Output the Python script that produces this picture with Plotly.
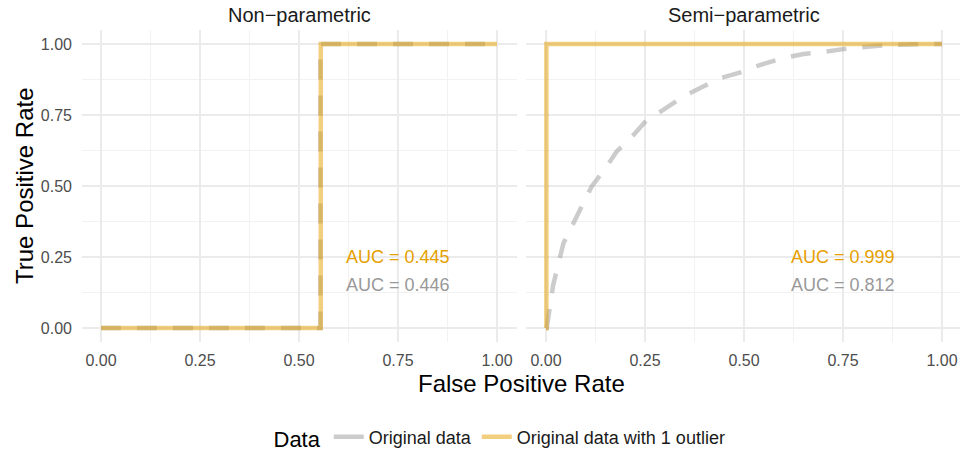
import plotly.graph_objects as go

# ---------------- data ----------------
panels = ["Non−parametric", "Semi−parametric"]
series_names = ["Original data", "Original data with 1 outlier"]

np_fpr_orig = [0.0, 0.554, 0.554, 1.0]
np_tpr_orig = [0.0, 0.0, 1.0, 1.0]
np_fpr_out = [0.0, 0.555, 0.555, 1.0]
np_tpr_out = [0.0, 0.0, 1.0, 1.0]

sp_fpr_orig = [0.0, 0.002, 0.018, 0.044, 0.094, 0.115, 0.153, 0.178, 0.221, 0.254,
               0.296, 0.347, 0.397, 0.439, 0.498, 0.540, 0.599, 0.650, 0.705, 0.751,
               0.818, 0.860, 0.928, 0.974, 1.0]
sp_tpr_orig = [0.0, 0.0, 0.151, 0.298, 0.439, 0.498, 0.568, 0.621, 0.680, 0.732,
               0.768, 0.815, 0.850, 0.879, 0.903, 0.926, 0.950, 0.965, 0.973, 0.982,
               0.991, 0.996, 0.999, 1.0, 1.0]
sp_fpr_out = [0.0, 0.001, 0.001, 1.0]
sp_tpr_out = [0.0, 0.0, 1.0, 1.0]

auc_out = ["AUC = 0.445", "AUC = 0.999"]
auc_orig = ["AUC = 0.446", "AUC = 0.812"]

tick_vals = [0, 0.25, 0.5, 0.75, 1.0]
tick_text = ["0.00", "0.25", "0.50", "0.75", "1.00"]

# ---------------- styles ----------------
GREY = "rgba(153,153,153,0.5)"
ORANGE = "rgba(230,159,0,0.5)"
FONT = "Liberation Sans, Arial, sans-serif"
W, H = 960, 453
LW = 4.5
DASH = "20px,16px"

fig = go.Figure()

data = [
    (np_fpr_orig, np_tpr_orig, np_fpr_out, np_tpr_out, "x", "y"),
    (sp_fpr_orig, sp_tpr_orig, sp_fpr_out, sp_tpr_out, "x2", "y2"),
]
for fo, to, fu, tu, xa, ya in data:
    fig.add_trace(go.Scatter(x=fo, y=to, mode="lines", xaxis=xa, yaxis=ya,
                             line=dict(color=GREY, width=LW, dash=DASH), showlegend=False,
                             hoverinfo="skip"))
    fig.add_trace(go.Scatter(x=fu, y=tu, mode="lines", xaxis=xa, yaxis=ya,
                             line=dict(color=ORANGE, width=LW), showlegend=False,
                             hoverinfo="skip"))

# legend entries (solid keys like ggplot)
fig.add_trace(go.Scatter(x=[None], y=[None], mode="lines", name=series_names[0],
                         line=dict(color=GREY, width=LW), legendrank=1))
fig.add_trace(go.Scatter(x=[None], y=[None], mode="lines", name=series_names[1],
                         line=dict(color=ORANGE, width=LW), legendrank=2))

def px(v):
    return v / W

def py(v):
    return 1 - v / H

y_dom = [py(342.2), py(29.8)]
yr = [-0.05, 1.05]

axis_common = dict(
    showline=False, zeroline=False, showgrid=True, gridcolor="#EBEBEB", gridwidth=1.6,
    tickvals=tick_vals, ticktext=tick_text, automargin=False,
    tickfont=dict(family=FONT, size=16, color="#4D4D4D"), ticks="",
    minor=dict(showgrid=True, gridcolor="#F2F2F2", gridwidth=0.8, tick0=0.125, dtick=0.25),
)

fig.update_layout(
    width=W, height=H, margin=dict(l=0, r=0, t=0, b=0, autoexpand=False),
    plot_bgcolor="white", paper_bgcolor="white",
    font=dict(family=FONT),
    xaxis=dict(domain=[px(82), px(517)], range=[-19 / 396, 1 + 20 / 396], anchor="y",
               ticklabelstandoff=7, **axis_common),
    yaxis=dict(domain=y_dom, range=yr, anchor="x", ticklabelstandoff=9, **axis_common),
    xaxis2=dict(domain=[px(526), 1.0], range=[-20 / 396, 1 + 18 / 396], anchor="y2",
                ticklabelstandoff=7, **axis_common),
    yaxis2=dict(domain=y_dom, range=yr, anchor="x2", showticklabels=False, **axis_common),
    legend=dict(orientation="h", x=px(501), xanchor="center", y=py(438), yanchor="middle",
                title=dict(text="Data", font=dict(family=FONT, size=22, color="black")),
                font=dict(family=FONT, size=18, color="#1A1A1A"),
                itemwidth=30, tracegroupgap=0),
)

annotations = []
# strip titles
for i, (name, cx) in enumerate(zip(panels, [299.5, 744])):
    annotations.append(dict(text=name, x=px(cx), y=py(15), xref="paper", yref="paper",
                            showarrow=False, font=dict(family=FONT, size=20, color="#1A1A1A"),
                            xanchor="center", yanchor="middle"))
# axis titles
annotations.append(dict(text="False Positive Rate", x=px(521.5), y=py(383), xref="paper",
                        yref="paper", showarrow=False,
                        font=dict(family=FONT, size=24, color="black"),
                        xanchor="center", yanchor="middle"))
annotations.append(dict(text="True Positive Rate", x=px(24), y=py(186), xref="paper",
                        yref="paper", showarrow=False, textangle=-90,
                        font=dict(family=FONT, size=24, color="black"),
                        xanchor="center", yanchor="middle"))
# AUC labels
for i, (xa, ya) in enumerate([("x", "y"), ("x2", "y2")]):
    annotations.append(dict(text=auc_out[i], x=0.75, y=0.25, xref=xa, yref=ya,
                            showarrow=False, font=dict(family=FONT, size=18, color="#E69F00"),
                            xanchor="center", yanchor="middle"))
    annotations.append(dict(text=auc_orig[i], x=0.75, y=0.15, xref=xa, yref=ya,
                            showarrow=False, font=dict(family=FONT, size=18, color="#999999"),
                            xanchor="center", yanchor="middle"))
fig.update_layout(annotations=annotations)

fig.write_html("out.html", config={"displayModeBar": False},
               post_script="document.body.style.margin='0';document.body.style.overflow='hidden';")
